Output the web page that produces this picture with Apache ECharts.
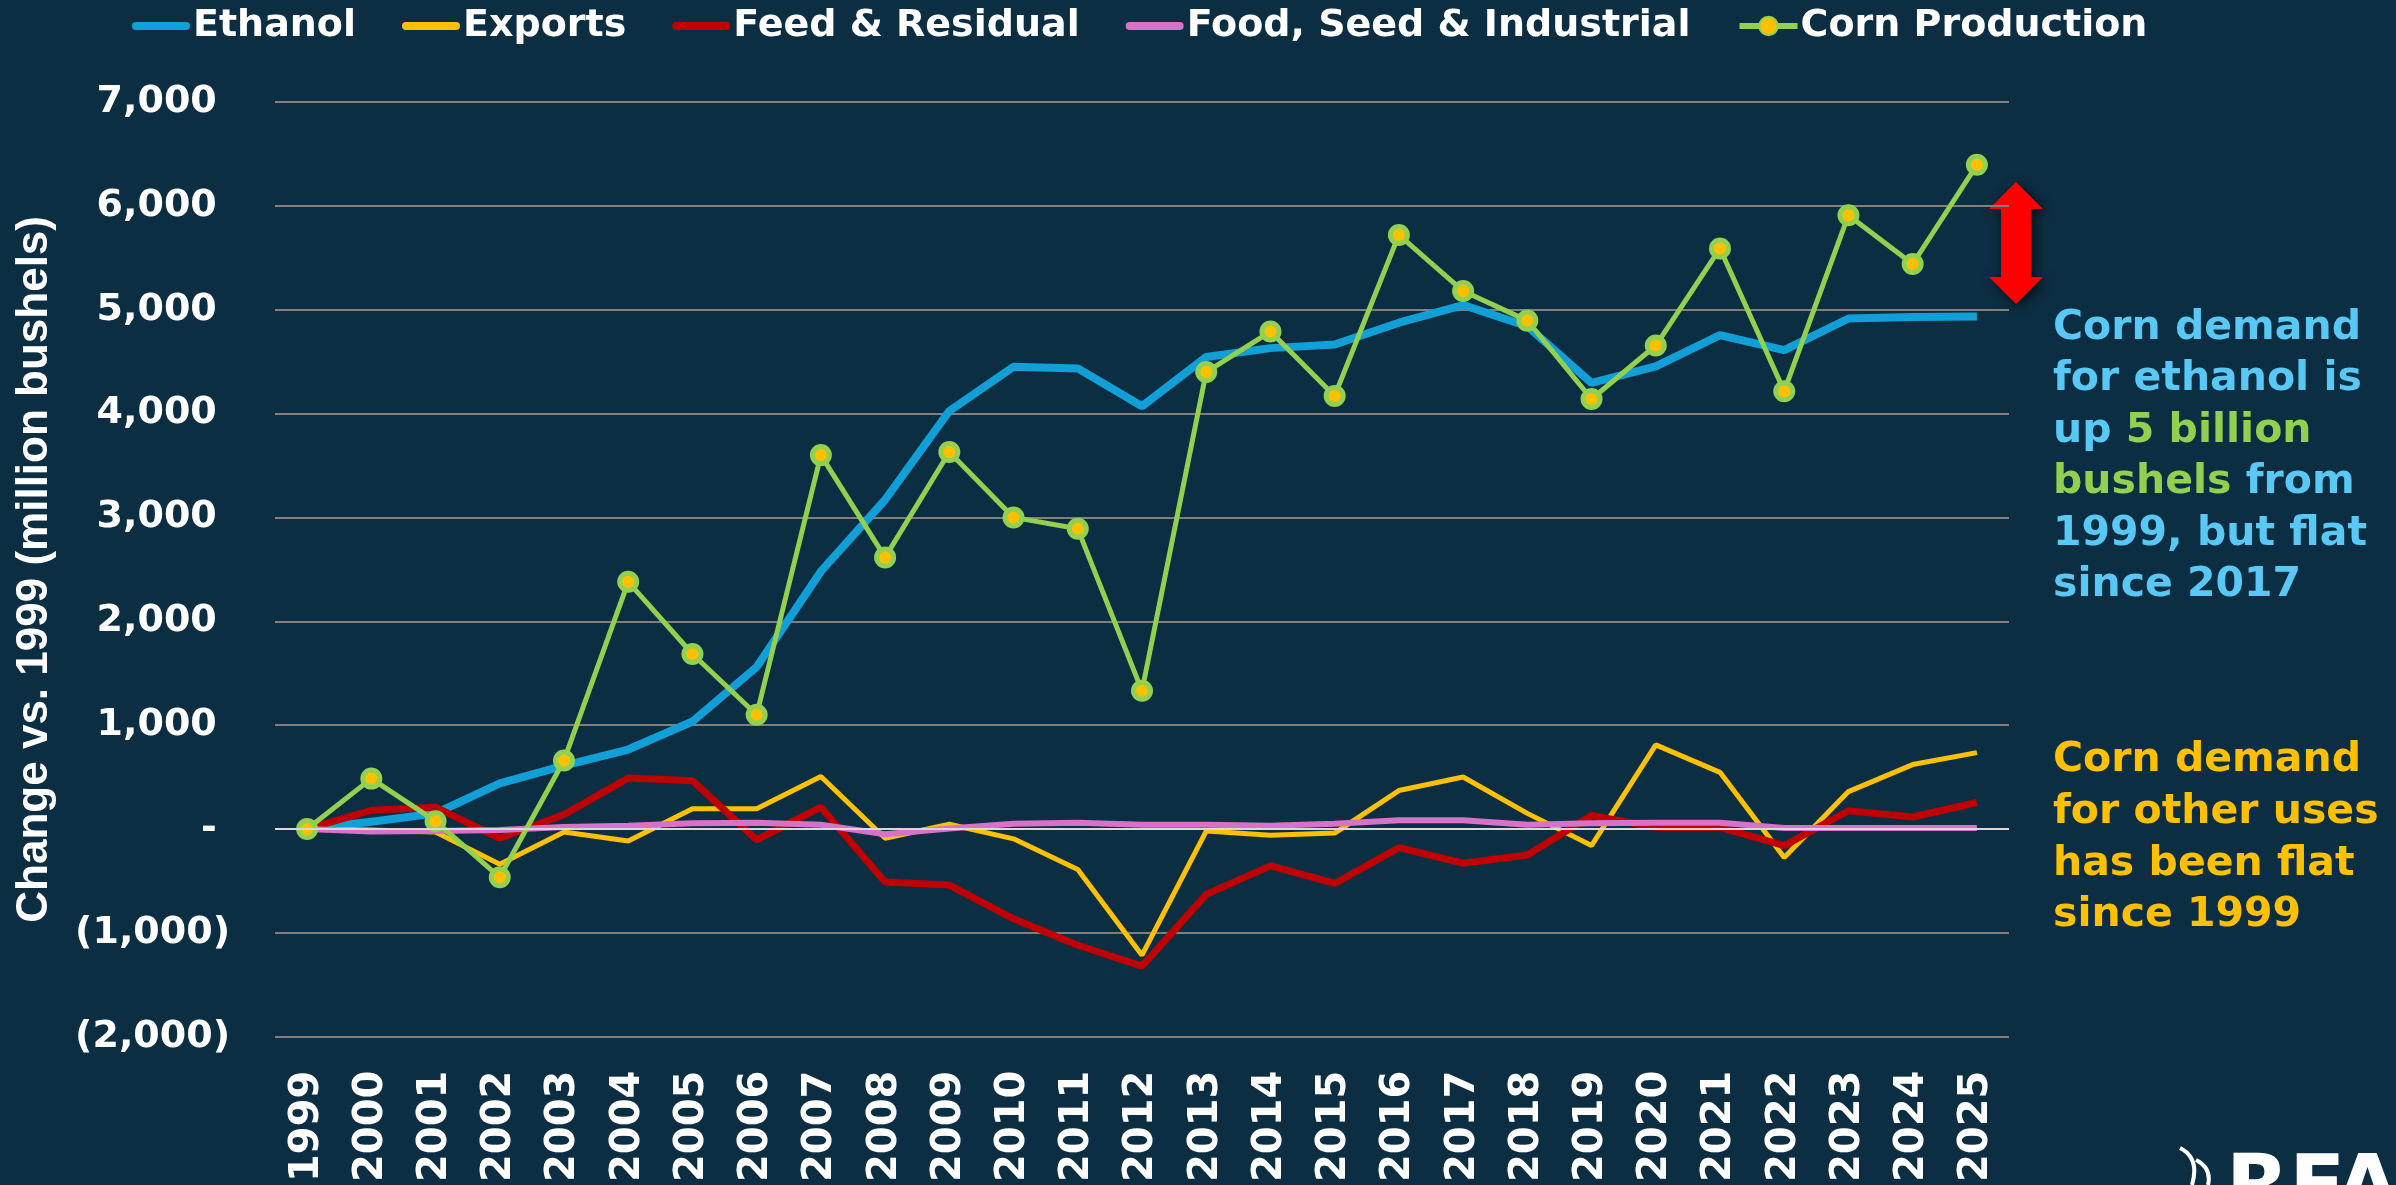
<!DOCTYPE html>
<html><head><meta charset="utf-8">
<script src="https://cdn.jsdelivr.net/npm/echarts@6/dist/echarts.min.js"></script>
<style>html,body{margin:0;padding:0;background:#0c2e42;}#c{width:2396px;height:1185px;}</style>
</head><body><div id="c"></div>
<script>
const years = ['1999','2000','2001','2002','2003','2004','2005','2006','2007','2008','2009','2010','2011','2012','2013','2014','2015','2016','2017','2018','2019','2020','2021','2022','2023','2024','2025'];
const ethanol = [0, 70, 150, 440, 610, 765, 1035, 1560, 2480, 3170, 4025, 4450, 4435, 4070, 4545, 4630, 4665, 4875, 5045, 4840, 4295, 4455, 4755, 4610, 4915, 4930, 4935];
const exportsData = [0, -10, -30, -340, -30, -115, 195, 195, 505, -90, 45, -95, -390, -1215, -20, -60, -40, 370, 500, 150, -160, 810, 545, -275, 360, 620, 735];
const feedResidual = [0, 180, 210, -90, 140, 490, 465, -105, 210, -510, -540, -865, -1120, -1320, -630, -355, -525, -180, -330, -250, 130, 15, 15, -160, 175, 115, 255];
const foodSeedIndustrial = [0, -25, -20, -10, 20, 30, 55, 60, 40, -50, 5, 50, 60, 40, 40, 30, 50, 85, 85, 40, 55, 60, 60, 10, 10, 10, 10];
const cornProduction = [0, 485, 75, -465, 660, 2380, 1685, 1100, 3600, 2615, 3630, 3000, 2890, 1330, 4400, 4790, 4170, 5720, 5180, 4895, 4140, 4655, 5590, 4215, 5910, 5440, 6395];
const yMin = -2000, yMax = 7000, yStep = 1000;
const yAxisTitle = 'Change vs. 1999 (million bushels)';
const seriesNames = ['Ethanol', 'Exports', 'Feed & Residual', 'Food, Seed & Industrial', 'Corn Production'];

const BG = '#0c2e42';
const FONT = '"DejaVu Sans", "Liberation Sans", sans-serif';
const BLUE_TXT = '#5ac8f5', GREEN = '#92d050', GOLD = '#ffc000';
const BAR_ICON = 'path://M4,7.5L54,7.5A4,4 0 0 1 54,15.5L4,15.5A4,4 0 0 1 4,7.5Z M0,0L0.01,0L0,0.01Z M58,23L57.99,23L58,22.99Z';

function fmtTick(v) {
  if (v === 0) return '- ';
  const s = Math.abs(v).toLocaleString('en-US');
  return v < 0 ? '(' + s + ')' : s + ' ';
}

const chart = echarts.init(document.getElementById('c'), null, {renderer: 'canvas'});

const txtLine = (text, x, y, fill) => ({
  type: 'text', x: x, y: y, silent: true,
  style: { text: text, fill: fill, fontSize: 41, fontWeight: 'bold', fontFamily: FONT, textVerticalAlign: 'middle', textAlign: 'left' }
});
const richLine = (text, x, y) => ({
  type: 'text', x: x, y: y, silent: true,
  style: {
    text: text, fontSize: 41, fontWeight: 'bold', fontFamily: FONT, textVerticalAlign: 'middle', textAlign: 'left', fill: BLUE_TXT,
    rich: {
      b: { fill: BLUE_TXT, fontSize: 41, fontWeight: 'bold', fontFamily: FONT },
      g: { fill: GREEN, fontSize: 41, fontWeight: 'bold', fontFamily: FONT }
    }
  }
});

const TX = 2053;
const option = {
  backgroundColor: BG,
  animation: false,
  legend: {
    left: 127, top: 2,
    itemWidth: 58, itemHeight: 23, itemGap: 46,
    lineStyle: { width: 6 },
    textStyle: { color: '#ffffff', fontSize: 38, fontWeight: 'bold', fontFamily: FONT, padding: [0, 0, 0, -2] },
    data: [
      { name: seriesNames[0], icon: BAR_ICON },
      { name: seriesNames[1], icon: BAR_ICON },
      { name: seriesNames[2], icon: BAR_ICON },
      { name: seriesNames[3], icon: BAR_ICON },
      { name: seriesNames[4] }
    ]
  },
  grid: { left: 275, right: 387, top: 102, bottom: 139, containLabel: false },
  xAxis: {
    type: 'category', data: years, boundaryGap: true,
    axisLine: { show: false }, axisTick: { show: false },
    axisLabel: { rotate: 90, interval: 0, margin: 34, color: '#ffffff', fontSize: 40, fontWeight: 'bold', fontFamily: FONT }
  },
  yAxis: {
    type: 'value', min: yMin, max: yMax, interval: yStep,
    name: yAxisTitle, nameLocation: 'middle', nameRotate: 90, nameGap: 218,
    nameTextStyle: { color: '#ffffff', fontSize: 44, fontWeight: 'bold', fontFamily: '"Liberation Sans", Arial, sans-serif' },
    axisLine: { show: false }, axisTick: { show: false },
    splitLine: { show: true, lineStyle: { color: '#7f7f7f', width: 2 } },
    axisLabel: { margin: 45, color: '#ffffff', fontSize: 38, fontWeight: 'bold', fontFamily: FONT, formatter: fmtTick }
  },
  series: [
    { name: seriesNames[0], type: 'line', data: ethanol, symbol: 'none', lineStyle: { color: '#119fd8', width: 8 }, itemStyle: { color: '#119fd8' },
      markLine: { silent: true, symbol: 'none', label: { show: false }, lineStyle: { color: '#d9d9d9', width: 2, type: 'solid' }, data: [{ yAxis: 0 }] } },
    { name: seriesNames[1], type: 'line', data: exportsData, symbol: 'none', lineStyle: { color: GOLD, width: 5 }, itemStyle: { color: GOLD } },
    { name: seriesNames[2], type: 'line', data: feedResidual, symbol: 'none', lineStyle: { color: '#c00000', width: 7 }, itemStyle: { color: '#c00000' } },
    { name: seriesNames[3], type: 'line', data: foodSeedIndustrial, symbol: 'none', lineStyle: { color: '#d872c8', width: 6 }, itemStyle: { color: '#d872c8' } },
    { name: seriesNames[4], type: 'line', data: cornProduction, symbol: 'circle', symbolSize: 17, showSymbol: true,
      lineStyle: { color: GREEN, width: 5 }, itemStyle: { color: GOLD, borderColor: GREEN, borderWidth: 5 } }
  ],
  graphic: [
    { type: 'polygon', silent: true,
      shape: { points: [[2016,182],[2043,209],[2031,209],[2031,277],[2043,277],[2016,304],[1989,277],[2001,277],[2001,209],[1989,209]] },
      style: { fill: '#ff0000', shadowBlur: 12, shadowColor: 'rgba(0,0,0,0.7)', shadowOffsetX: 3, shadowOffsetY: 3 } },
    txtLine('Corn demand', TX, 328, BLUE_TXT),
    txtLine('for ethanol is', TX, 379.5, BLUE_TXT),
    richLine('{b|up }{g|5 billion}', TX, 431),
    richLine('{g|bushels}{b| from}', TX, 482.5),
    txtLine('1999, but flat', TX, 534, BLUE_TXT),
    txtLine('since 2017', TX, 585.5, BLUE_TXT),
    txtLine('Corn demand', TX, 760, GOLD),
    txtLine('for other uses', TX, 812, GOLD),
    txtLine('has been flat', TX, 864, GOLD),
    txtLine('since 1999', TX, 915, GOLD),
    { type: 'text', x: 2226, y: 1192, silent: true,
      style: { text: 'RFA', fill: '#ffffff', fontSize: 82, fontWeight: 'bold', fontFamily: FONT, textVerticalAlign: 'middle' } },
    { type: 'bezierCurve', silent: true, shape: { x1: 2180, y1: 1148, x2: 2192, y2: 1185, cpx1: 2200, cpy1: 1158 }, style: { stroke: '#ffffff', lineWidth: 4, fill: null } },
    { type: 'bezierCurve', silent: true, shape: { x1: 2196, y1: 1160, x2: 2208, y2: 1185, cpx1: 2212, cpy1: 1168 }, style: { stroke: '#ffffff', lineWidth: 4, fill: null } }
  ]
};
chart.setOption(option);
</script>
</body></html>
